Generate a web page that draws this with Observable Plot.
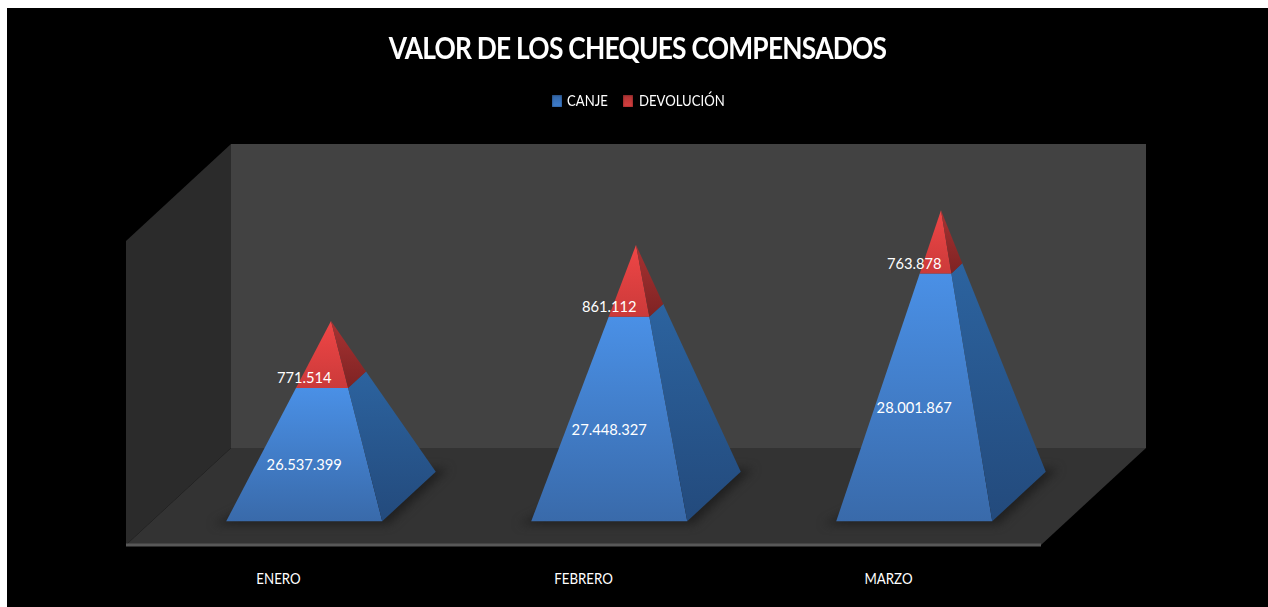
<!DOCTYPE html>
<html lang="es">
<head>
<meta charset="utf-8">
<title>Valor de los cheques compensados</title>
<script src="https://cdn.jsdelivr.net/npm/d3@7"></script>
<script src="https://cdn.jsdelivr.net/npm/@observablehq/plot@0.6"></script>
<style>
  html, body { margin: 0; padding: 0; background: #fff; overflow: hidden; }
  #stage { position: absolute; left: 7px; top: 8px; width: 1261px; height: 599px; background: #000; color: #fff; font-family: Lato, sans-serif; }
  #head { position: relative; height: 117px; }
  h1 { position: absolute; left: 0; width: 1261px; top: 20px; margin: 0; text-align: center; font-size: 31px; line-height: 38px; font-weight: 700; letter-spacing: -0.9px; white-space: nowrap; transform: scaleX(0.85); transform-origin: 630px 0; }
  #legend { position: absolute; top: 82px; left: 545px; height: 20px; font-size: 16px; line-height: 20px; }
  #legend span { position: absolute; top: 0; white-space: nowrap; transform: scaleX(0.82); transform-origin: 0 0; }
  #legend i { position: absolute; top: 5px; width: 10px; height: 12px; box-shadow: inset 0 0 2px rgba(0,0,0,.6); }
  svg { display: block; }
</style>
</head>
<body>
<div id="stage">
  <div id="head">
    <h1>VALOR DE LOS CHEQUES COMPENSADOS</h1>
    <div id="legend"></div>
  </div>
  <div id="chart"></div>
</div>
<script>
const meses = ["ENERO", "FEBRERO", "MARZO"];
const canje = [26537399, 27448327, 28001867];
const devolucion = [771514, 861112, 763878];
const serieNombres = ["CANJE", "DEVOLUCIÓN"];
const serieColores = ["#3f7fd0", "#d94040"];

// Value axis of the 3-D chart and its oblique projection
const valorMin = 25e6, valorMax = 29e6;
const depthX = 105 / 305;      // category units per unit of depth
const depthY = 97 / 76 * 1e6;  // value units per unit of depth
const medioAncho = 78 / 305;   // pyramid half width, category units
const fondo = 0.255;           // pyramid half depth

const proj = (x, valor, d) => ({x: x + d * depthX, y: valor + d * depthY});

function punto(i, total, t, sx, sd) {
  return proj(i + sx * medioAncho * (1 - t), valorMin + (total - valorMin) * t, 0.5 + sd * fondo * (1 - t));
}

function caras(i) {
  const total = canje[i] + devolucion[i];
  const t = (canje[i] - valorMin) / (total - valorMin);
  const p = (tt, sx, sd) => punto(i, total, tt, sx, sd);
  return [
    {fill: "url(#blueFront)", pts: [p(0,-1,-1), p(0,1,-1), p(t,1,-1), p(t,-1,-1)]},
    {fill: "url(#blueSide)",  pts: [p(0,1,-1), p(0,1,1), p(t,1,1), p(t,1,-1)]},
    {fill: "url(#redFront)",  pts: [p(t,-1,-1), p(t,1,-1), p(1,0,0)]},
    {fill: "url(#redSide)",   pts: [p(t,1,-1), p(t,1,1), p(1,0,0)]}
  ];
}

function sombra(i) {
  const c = (sx, sd) => proj(i + sx * (medioAncho + 0.03), valorMin, 0.5 + sd * (fondo + 0.03));
  return [c(-1,-1), c(1,-1), c(1,1), c(-0.4,1)];
}

const muro = (puntos, fill) => Plot.line(puntos, {x: "x", y: "y", fill, stroke: "none"});

const defs = () => {
  const d = d3.create("svg:defs");
  const grad = (id, a, b) => {
    const g = d.append("linearGradient").attr("id", id).attr("x1", 0).attr("y1", 0).attr("x2", 0).attr("y2", 1);
    g.append("stop").attr("offset", 0).attr("stop-color", a);
    g.append("stop").attr("offset", 1).attr("stop-color", b);
  };
  grad("blueFront", "#4a90e6", "#396aaa");
  grad("blueSide", "#2c639f", "#234a7c");
  grad("redFront", "#f04646", "#cb3a3a");
  grad("redSide", "#a83232", "#7e2323");
  return d.node();
};

const fmt = v => d3.format(",")(v).replace(/,/g, ".");
const idx = meses.map((_, i) => i);

const etiquetasCanje = idx.map(i => {
  const total = canje[i] + devolucion[i];
  const t = (canje[i] - valorMin) / (total - valorMin);
  const a = punto(i, total, 0, 0, -1), b = punto(i, total, t, 0, -1);
  return {x: a.x, y: (a.y + b.y) / 2, text: fmt(canje[i])};
});
const etiquetasDev = idx.map(i => {
  const total = canje[i] + devolucion[i];
  const t = (canje[i] - valorMin) / (total - valorMin);
  const a = punto(i, total, 0, 0, -1), b = punto(i, total, t, 0, -1);
  return {x: a.x, y: b.y, text: fmt(devolucion[i])};
});

const plot = Plot.plot({
  width: 1261,
  height: 482,
  marginTop: 0, marginLeft: 0, marginRight: 0, marginBottom: 62,
  style: {background: "#000", color: "#fff", fontFamily: "Lato, sans-serif", overflow: "visible"},
  x: {domain: [-0.5, 2.5], range: [118.5, 1033.5]},
  y: {domain: [valorMin, valorMax], range: [419.5, 115.5], axis: null},
  marks: [
    defs,
    muro([proj(-0.5,valorMin,0), proj(-0.5,valorMax,0), proj(-0.5,valorMax,1), proj(-0.5,valorMin,1)], "#2b2b2b"),
    muro([proj(-0.5,valorMin,1), proj(-0.5,valorMax,1), proj(2.5,valorMax,1), proj(2.5,valorMin,1)], "#424242"),
    muro([proj(-0.5,valorMin,0), proj(2.5,valorMin,0), proj(2.5,valorMin,1), proj(-0.5,valorMin,1)], "#333333"),
    Plot.line([proj(-0.5,valorMin,0), proj(2.5,valorMin,0)], {x: "x", y: "y", stroke: "#585858", strokeWidth: 3, strokeLinecap: "butt"}),
    ...idx.map(i => Plot.line(sombra(i), {x: "x", y: "y", fill: "#202020", stroke: "none", imageFilter: "blur(5px)"})),
    ...idx.flatMap(i => caras(i).map(c => Plot.line(c.pts, {x: "x", y: "y", fill: c.fill, stroke: "none"}))),
    Plot.text(etiquetasCanje, {x: "x", y: "y", text: "text", dy: 10.5, fill: "#fff", fontSize: 16}),
    Plot.text(etiquetasDev, {x: "x", y: "y", text: "text", dy: -10, fill: "#fff", fontSize: 16}),
    Plot.axisX({ticks: idx, tickFormat: i => meses[i], tickSize: 0, tickPadding: 27, fontSize: 16, fill: "#fff", label: null})
  ]
});
document.getElementById("chart").append(plot);

// The reference face is narrower than any installed one: condense the SVG labels
plot.querySelectorAll("text").forEach(t => {
  const f = t.textContent.includes(".") ? 0.92 : 0.83;
  t.setAttribute("textLength", (t.getComputedTextLength() * f).toFixed(1));
  t.setAttribute("lengthAdjust", "spacingAndGlyphs");
});

const legend = document.getElementById("legend");
const pos = [[0, 15], [71, 86.5]];
serieNombres.forEach((n, k) => {
  const sw = document.createElement("i");
  sw.style.left = pos[k][0] + "px";
  sw.style.background = `linear-gradient(${serieColores[k]}cc, ${serieColores[k]})`;
  const s = document.createElement("span");
  s.style.left = pos[k][1] + "px";
  s.textContent = n;
  legend.append(sw, s);
});
</script>
</body>
</html>
